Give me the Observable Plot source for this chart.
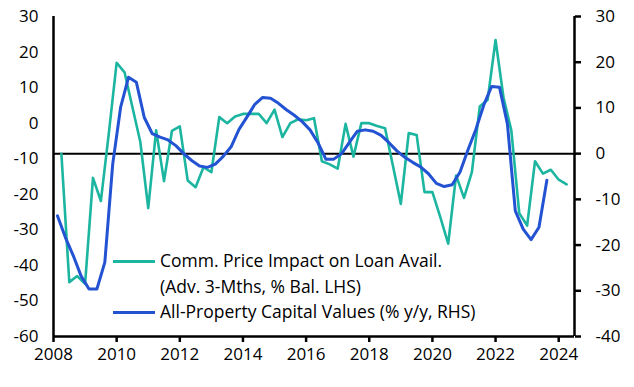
<!DOCTYPE html>
<html>
<head>
<meta charset="utf-8">
<script src="https://cdn.jsdelivr.net/npm/d3@7"></script>
<script src="https://cdn.jsdelivr.net/npm/@observablehq/plot@0.6"></script>
<style>
  body { margin: 0; background: #fff; }
  #wrap { position: relative; width: 634px; height: 387px; font-family: "Open Sans", sans-serif; color: #000; }
  #legend { position: absolute; left: 113px; top: 248px; font-size: 17.5px; line-height: 25.6px; }
  .row { display: flex; align-items: flex-start; }
  .sw { width: 42px; margin-right: 5px; margin-top: 12px; height: 3px; flex: none; }
  .txt { white-space: nowrap; }
</style>
</head>
<body>
<div id="wrap"><div id="chart"></div><div id="legend"></div></div>
<script>
// ---- data ----
const seriesNames = ["Comm. Price Impact on Loan Avail.\n(Adv. 3-Mths, % Bal. LHS)", "All-Property Capital Values (% y/y, RHS)"];
const seriesColors = ["#1bb5a0", "#2352d2"];

const leftTicks = [30, 20, 10, 0, -10, -20, -30, -40, -50, -60];
const rightTicks = [30, 20, 10, 0, -10, -20, -30, -40];
const xTicks = [2008, 2010, 2012, 2014, 2016, 2018, 2020, 2022, 2024];

// Commercial price impact on loan availability, quarterly from 2008 Q2
const tealStart = 2008.25;
const tealValues = [
  -8.6, -44.7, -43,
  -45.2, -15.4, -21.9, -3,
  17, 14.3, 4.5, -5.3,
  -23.9, -2, -16.3, -2.2,
  -0.9, -16.1, -18, -12.4,
  -13.8, 1.7, 0, 1.9,
  2.6, 2.6, 2.6, 0,
  3.8, -3.9, 0, 1.1,
  0.8, 1.4, -10.7, -11.6,
  -12.8, -0.2, -9.4, 0,
  0, -0.8, -1.4, -12,
  -22.7, -2.8, -3.3, -19.4,
  -19.4, -26.4, -33.9, -14.7,
  -21, -13.8, 4.7, 6.6,
  23.4, 7.3, -2.1, -25.3,
  -28.8, -10.7, -14.2, -13.1,
  -15.9, -17.2
];

// All-property capital values % y/y, quarterly (mid-quarter) from 2008 Q1
const blueStart = 2008.125;
const blueValues = [
  -13.6, -18.3, -22.3, -26.8,
  -29.6, -29.6, -23.8, -2.3,
  10.1, 16.7, 15.6, 7.9,
  4.4, 3.6, 3.0, 1.75,
  0, -1.5, -2.7, -3.0,
  -2.3, -0.6, 1.5, 5.3,
  8.0, 10.8, 12.3, 12.1,
  11.0, 9.6, 8.4, 7.0,
  5.2, 2.4, -1.2, -1.2,
  0.0, 2.5, 4.9, 5.2,
  4.9, 4.0, 2.4, 0.6,
  -0.8, -1.9, -2.9, -4.4,
  -6.5, -7.2, -6.8, -4.0,
  0.8, 5.3, 10.6, 14.7,
  14.5, 6.5, -12.5, -16.5,
  -18.8, -16.1, -5.8
];

// ---- build ----
const LEFT = [-60, 30], RIGHT = [-40, 30];
const XDOM = [2008, 2024.5];
const toLeft = r => LEFT[0] + (r - RIGHT[0]) * (LEFT[1] - LEFT[0]) / (RIGHT[1] - RIGHT[0]);
const fromLeft = v => RIGHT[0] + (v - LEFT[0]) * (RIGHT[1] - RIGHT[0]) / (LEFT[1] - LEFT[0]);

const teal = tealValues.map((v, i) => ({date: tealStart + i * 0.25, value: v}));
const blue = blueValues.map((v, i) => ({date: blueStart + i * 0.25, value: v}));

const chart = Plot.plot({
  width: 634, height: 387,
  marginLeft: 53, marginRight: 60, marginTop: 16, marginBottom: 51,
  x: {domain: XDOM, label: null},
  y: {domain: LEFT, label: null},
  style: {fontFamily: "'Open Sans', sans-serif", fontSize: "17px", color: "#000", background: "#fff", overflow: "visible"},
  marks: [
    Plot.ruleY([toLeft(0)], {stroke: "#000", strokeWidth: 2}),
    Plot.line(teal, {x: "date", y: "value", stroke: seriesColors[0], strokeWidth: 2.6}),
    Plot.line(blue, {x: "date", y: d => toLeft(d.value), stroke: seriesColors[1], strokeWidth: 3}),
    Plot.axisY({anchor: "left", label: null, ticks: leftTicks, tickSize: 0, tickPadding: 15, tickFormat: d => String(d)}),
    Plot.axisY({anchor: "right", label: null, ticks: rightTicks.map(toLeft), tickSize: 6, tickPadding: 15, strokeWidth: 2.5,
      tickFormat: v => String(Math.round(fromLeft(v)))}),
    Plot.axisX({label: null, ticks: xTicks, tickSize: 6, tickPadding: 5, strokeWidth: 2.5, tickFormat: d => String(d)}),
    Plot.ruleX([XDOM[0]], {stroke: "#000", strokeWidth: 2.5}),
    Plot.ruleX([XDOM[1]], {stroke: "#000", strokeWidth: 2.5}),
    Plot.ruleY([LEFT[0]], {stroke: "#000", strokeWidth: 2.5})
  ]
});
document.getElementById("chart").appendChild(chart);

// legend
const legend = document.getElementById("legend");
seriesNames.forEach((name, i) => {
  const row = document.createElement("div");
  row.className = "row";
  const sw = document.createElement("div");
  sw.className = "sw";
  sw.style.background = seriesColors[i];
  const txt = document.createElement("div");
  txt.className = "txt";
  txt.innerHTML = name.split("\n").join("<br>");
  row.appendChild(sw); row.appendChild(txt);
  legend.appendChild(row);
});
</script>
</body>
</html>
